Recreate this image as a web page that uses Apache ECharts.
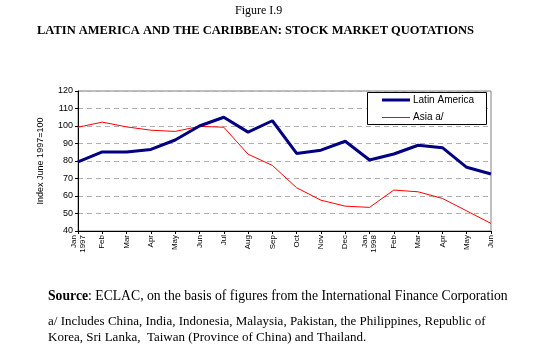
<!DOCTYPE html>
<html><head><meta charset="utf-8">
<script src="https://cdn.jsdelivr.net/npm/echarts@6/dist/echarts.min.js"></script>
<style>html,body{margin:0;padding:0;background:#fff}#c{width:534px;height:362px}</style>
</head><body><div id="c"></div>
<script>
const months = ['Jan\n1997','Feb','Mar','Apr','May','Jun','Jul','Aug','Sep','Oct','Nov','Dec','Jan\n1998','Feb','Mar','Apr','May','Jun'];
const latinAmerica = [79.5,85.2,85.2,86.6,92,100,105,96.5,103,84.3,86.2,91.3,80.6,84,89,87.6,76.4,72.6];
const asia = [99.3,102.2,99.5,97.6,96.9,99.8,99.3,83.9,77.5,64.7,57.6,54.2,53.5,63.4,62.4,58.6,51.5,44.3];
const yTicks = {min:40, max:120, interval:10};
const seriesNames = ['Latin America','Asia a/'];
const colors = ['#000080','#ff0000'];

const chart = echarts.init(document.getElementById('c'), null, {renderer:'canvas'});
chart.setOption({
  animation:false,
  backgroundColor:'#fff',
  grid:{left:78, right:43, top:91, bottom:131, show:true, borderColor:'#808080', borderWidth:1},
  xAxis:{
    type:'category', boundaryGap:false, data:months,
    axisLine:{lineStyle:{color:'#000', width:1}},
    axisTick:{show:true, length:3, lineStyle:{color:'#000'}},
    axisLabel:{rotate:90, fontFamily:'Liberation Sans', fontSize:8, color:'#000', margin:4, lineHeight:9, interval:0},
    splitLine:{show:false}
  },
  yAxis:{
    type:'value', min:yTicks.min, max:yTicks.max, interval:yTicks.interval,
    name:'Index June 1997=100', nameLocation:'middle', nameGap:33,
    nameTextStyle:{fontFamily:'Liberation Sans', fontSize:9, color:'#000'},
    axisLine:{show:true, lineStyle:{color:'#000', width:1}},
    axisTick:{show:true, length:3, lineStyle:{color:'#000'}},
    axisLabel:{fontFamily:'Liberation Sans', fontSize:9, color:'#000', margin:5},
    splitLine:{show:true, lineStyle:{color:'#b0b0b0', type:[5,4], width:1}}
  },
  series:[
    {name:seriesNames[0], type:'line', data:latinAmerica, symbol:'none', lineStyle:{color:colors[0], width:3}, z:3},
    {name:seriesNames[1], type:'line', data:asia, symbol:'none', lineStyle:{color:colors[1], width:1}, z:2}
  ],
  graphic:[
    {type:'text', left:235, top:5, style:{text:'Figure I.9', font:'12px "Liberation Serif"', fill:'#000'}},
    {type:'text', left:37, top:24, style:{text:'LATIN AMERICA AND THE CARIBBEAN: STOCK MARKET QUOTATIONS', font:'bold 12.5px "Liberation Serif"', fill:'#000'}},
    {type:'rect', shape:{x:367.5, y:92.5, width:119, height:32}, style:{fill:'#fff', stroke:'#000', lineWidth:1}, z:10},
    {type:'line', shape:{x1:382, y1:100, x2:410, y2:100}, style:{stroke:colors[0], lineWidth:3}, z:11},
    {type:'line', shape:{x1:382, y1:117.5, x2:410, y2:117.5}, style:{stroke:colors[1], lineWidth:1}, z:11},
    {type:'text', x:413, y:100, style:{text:seriesNames[0], font:'10px "Liberation Sans"', fill:'#000', verticalAlign:'middle'}, z:11},
    {type:'text', x:413, y:117, style:{text:seriesNames[1], font:'10px "Liberation Sans"', fill:'#000', verticalAlign:'middle'}, z:11},
    {type:'text', left:48, top:289, style:{text:'{b|Source}: ECLAC, on the basis of figures from the International Finance Corporation', font:'13.7px "Liberation Serif"', fill:'#000', rich:{b:{fontWeight:'bold', fontFamily:'Liberation Serif', fontSize:13.7}}}},
    {type:'text', left:48, top:314, style:{text:'a/ Includes China, India, Indonesia, Malaysia, Pakistan, the Philippines, Republic of\nKorea, Sri Lanka,  Taiwan (Province of China) and Thailand.', font:'13px "Liberation Serif"', lineHeight:16, fill:'#000'}}
  ]
});
</script></body></html>
